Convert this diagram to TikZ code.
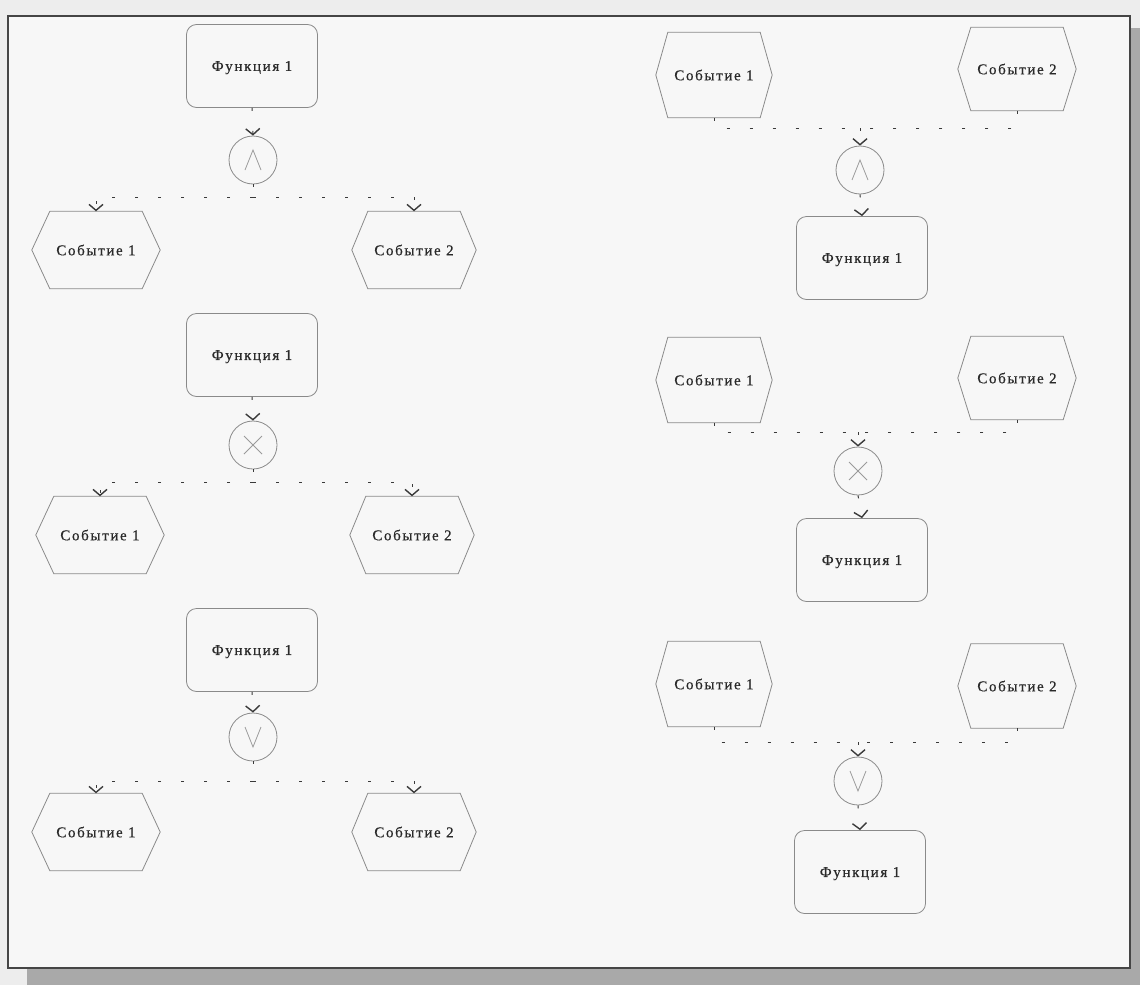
\documentclass[tikz,border=0pt]{standalone}
\usepackage{fontspec}
\setmainfont{Liberation Serif}
\newfontfamily\labfont[LetterSpace=11,FakeBold=0.6]{Liberation Serif}
\usetikzlibrary{arrows.meta}
\definecolor{bgout}{HTML}{EDEDED}
\definecolor{bgin}{HTML}{F7F7F7}
\definecolor{shadowc}{HTML}{A9A9A9}
\definecolor{framec}{HTML}{454545}
\definecolor{boxc}{HTML}{8A8A8A}
\definecolor{linec}{HTML}{3A3A3A}
\definecolor{symc}{HTML}{9A9A9A}
\definecolor{txtc}{HTML}{2A2A2A}
\newcommand\evhex[6]{%
  \node[evbox, minimum height=#6] (#1) at (#2,#3) {#4};
  \draw[evline] (#1.north west) -- (#1.north east) -- ([xshift=#5]#1.east)
    -- (#1.south east) -- (#1.south west) -- ([xshift=-#5]#1.west) -- cycle;}
\newcommand\symand[1]{\draw[sym] (#1) ++(-8,10) -- ++(8,-20) -- ++(8,20);}
\newcommand\symor[1]{\draw[sym] (#1) ++(-8,-10) -- ++(8,20) -- ++(8,-20);}
\newcommand\symxor[1]{\draw[sym] (#1) ++(-9,-9) -- ++(18,18) (#1) ++(9,-9) -- ++(-18,18);}
\begin{document}
\begin{tikzpicture}[x=1pt,y=-1pt,
  lab/.style={font=\labfont\fontsize{15}{17}\selectfont, text=txtc},
  func/.style={lab, draw=boxc, line width=0.8pt, rounded corners=10pt,
    minimum width=131pt, minimum height=83pt, inner sep=0pt, text depth=-4pt},
  gate/.style={circle, draw=boxc, line width=0.8pt, minimum size=48pt, inner sep=0pt},
  evbox/.style={lab, minimum width=92pt, inner sep=0pt},
  evline/.style={draw=boxc, line width=0.8pt},
  sym/.style={draw=symc, line width=0.8pt},
  dotl/.style={draw=linec, line width=1pt, dash pattern=on 3pt off 20pt},
  conn/.style={dotl, -{Straight Barb[length=6pt,width=14pt,line width=1.4pt]}}
]
% background and frame
\fill[bgout] (0,0) rectangle (1140,985);
\fill[shadowc] (27,968) rectangle (1140,985);
\fill[shadowc] (1130,28) rectangle (1140,985);
\draw[framec, line width=1.3pt, fill=bgin] (8,16) rectangle (1130,968);
\useasboundingbox (0,0) rectangle (1140,985);

% ===== left column =====
% group L1 (AND split)
\node[func] (lf1) at (252,66) {Функция 1};
\node[gate] (lc1) at (253,160) {};
\symand{lc1}
\coordinate (lj1) at (253,197);
\evhex{le11}{96}{250}{Событие 1}{18pt}{77pt}
\evhex{le12}{414}{250}{Событие 2}{16pt}{77pt}
\draw[conn] (lf1.south) -- (lc1.north);
\draw[dotl] (lc1.south) -- (lj1);
\draw[conn] (lj1) -| (le11.north);
\draw[conn] (lj1) -| (le12.north);

% group L2 (XOR split)
\node[func] (lf2) at (252,355) {Функция 1};
\node[gate] (lc2) at (253,445) {};
\symxor{lc2}
\coordinate (lj2) at (253,482);
\evhex{le21}{100}{535}{Событие 1}{18pt}{77pt}
\evhex{le22}{412}{535}{Событие 2}{16pt}{77pt}
\draw[conn] (lf2.south) -- (lc2.north);
\draw[dotl] (lc2.south) -- (lj2);
\draw[conn] (lj2) -| (le21.north);
\draw[conn] (lj2) -| (le22.north);

% group L3 (OR split)
\node[func] (lf3) at (252,650) {Функция 1};
\node[gate] (lc3) at (253,737) {};
\symor{lc3}
\coordinate (lj3) at (253,781);
\evhex{le31}{96}{832}{Событие 1}{18pt}{77pt}
\evhex{le32}{414}{832}{Событие 2}{16pt}{77pt}
\draw[conn] (lf3.south) -- (lc3.north);
\draw[dotl] (lc3.south) -- (lj3);
\draw[conn] (lj3) -| (le31.north);
\draw[conn] (lj3) -| (le32.north);

% ===== right column =====
% group R1 (AND join)
\evhex{re11}{714}{75}{Событие 1}{12pt}{85pt}
\evhex{re12}{1017}{69}{Событие 2}{13pt}{83pt}
\coordinate (rj1) at (860,128);
\node[gate] (rc1) at (860,170) {};
\symand{rc1}
\node[func] (rf1) at (862,258) {Функция 1};
\draw[dotl] (re11.south) |- (rj1);
\draw[dotl] (re12.south) |- (rj1);
\draw[conn] (rj1) -- (rc1.north);
\draw[conn] (rc1.south) -- (rf1.north);

% group R2 (XOR join)
\evhex{re21}{714}{380}{Событие 1}{12pt}{85pt}
\evhex{re22}{1017}{378}{Событие 2}{13pt}{83pt}
\coordinate (rj2) at (858,432);
\node[gate] (rc2) at (858,471) {};
\symxor{rc2}
\node[func] (rf2) at (862,560) {Функция 1};
\draw[dotl] (re21.south) |- (rj2);
\draw[dotl] (re22.south) |- (rj2);
\draw[conn] (rj2) -- (rc2.north);
\draw[conn] (rc2.south) -- (rf2.north);

% group R3 (OR join)
\evhex{re31}{714}{684}{Событие 1}{12pt}{85pt}
\evhex{re32}{1017}{686}{Событие 2}{13pt}{84pt}
\coordinate (rj3) at (858,742);
\node[gate] (rc3) at (858,781) {};
\symor{rc3}
\node[func] (rf3) at (860,872) {Функция 1};
\draw[dotl] (re31.south) |- (rj3);
\draw[dotl] (re32.south) |- (rj3);
\draw[conn] (rj3) -- (rc3.north);
\draw[conn] (rc3.south) -- (rf3.north);
\end{tikzpicture}
\end{document}
